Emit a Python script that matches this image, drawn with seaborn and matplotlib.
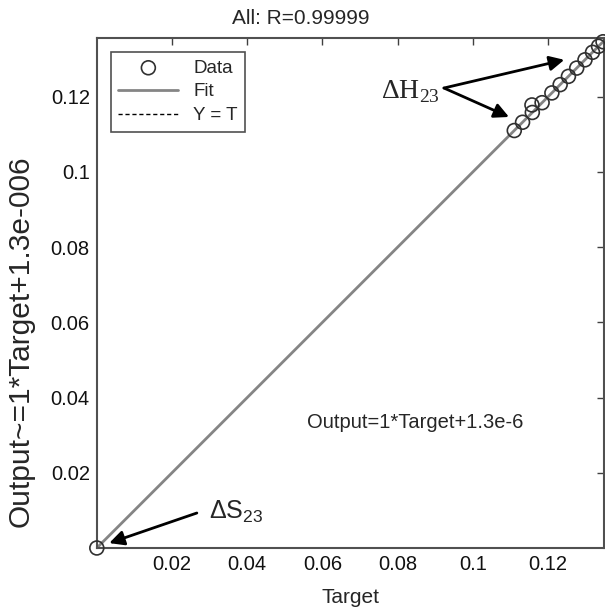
import numpy as np
import pandas as pd
import matplotlib
matplotlib.use("Agg")
import matplotlib.pyplot as plt
import seaborn as sns

# values
target = [0.0, 0.1110, 0.1132, 0.1157, 0.1158, 0.1184, 0.1210, 0.1232,
          0.1254, 0.1276, 0.1298, 0.1318, 0.1334, 0.1346]
output = [0.0, 0.1110, 0.1132, 0.1178, 0.1158, 0.1184, 0.1210, 0.1232,
          0.1254, 0.1276, 0.1298, 0.1318, 0.1334, 0.1346]
fit_x = [0.0, 0.1350]
fit_slope = 1.0
fit_intercept = 1.3e-6
tick_values = [0.02, 0.04, 0.06, 0.08, 0.1, 0.12]
tick_labels = ["0.02", "0.04", "0.06", "0.08", "0.1", "0.12"]

sns.set_style("white")
plt.rcParams["font.family"] = ["Liberation Sans", "DejaVu Sans"]
plt.rcParams["mathtext.fontset"] = "custom"
plt.rcParams["mathtext.rm"] = "Liberation Serif"
plt.rcParams["mathtext.sf"] = "Liberation Sans"

df = pd.DataFrame({"Target": target, "Output": output})
fit_df = pd.DataFrame({"x": fit_x,
                       "fit": [fit_slope * v + fit_intercept for v in fit_x],
                       "yt": fit_x})

fig = plt.figure(figsize=(6.05, 6.12), dpi=100)
ax = fig.add_axes([0.160, 0.1046, 0.838, 0.8333])

sns.lineplot(data=fit_df, x="x", y="yt", ax=ax, color="black", lw=1,
             linestyle=(0, (3, 2)), label="Y = T", zorder=1)
sns.lineplot(data=fit_df, x="x", y="fit", ax=ax, color="#858585", lw=2,
             label="Fit", zorder=2)
sns.scatterplot(data=df, x="Target", y="Output", ax=ax, marker="o", s=100,
                facecolors="none", edgecolor="#303030", linewidth=1.2,
                label="Data", zorder=3)
ax.collections[-1].set_clip_on(False)

ax.set_xlim(0, 0.1348)
ax.set_ylim(0, 0.1356)
ax.set_xticks(tick_values, tick_labels)
ax.set_yticks(tick_values, tick_labels)
ax.tick_params(direction="in", length=5, width=1, color="#404040",
               labelsize=14.5, pad=5, top=True, right=True,
               labelcolor="#111111")
for sp in ax.spines.values():
    sp.set_color("#505050")
    sp.set_linewidth(1.5)

ax.set_xlabel("Target", fontsize=15)
ax.xaxis.set_label_coords(0.5, -0.078)
ax.set_ylabel("Output~=1*Target+1.3e-006", fontsize=21.5)
ax.yaxis.set_label_coords(-0.150, 0.406)
ax.yaxis.label.set_va("center")
ax.yaxis.label.set_rotation_mode("default")

fig.text(0.497, 0.969, "All: R=0.99999", ha="center", va="center", fontsize=15)

# legend in the order Data, Fit, Y = T
h, l = ax.get_legend_handles_labels()
order = [l.index("Data"), l.index("Fit"), l.index("Y = T")]
leg = ax.legend([h[i] for i in order], [l[i] for i in order], loc="upper left",
                fontsize=13.5, handlelength=3.2, borderaxespad=0.75,
                fancybox=False, framealpha=1, edgecolor="#505050",
                borderpad=0.4, labelspacing=0.35)
leg.get_frame().set_linewidth(1.2)

ax.text(0.0846, 0.0334, "Output=1*Target+1.3e-6", ha="center", va="center",
        fontsize=14.5)

arrow = dict(arrowstyle="-|>", lw=2, color="black", mutation_scale=22,
             shrinkA=0, shrinkB=0)
ax.annotate("", xy=(0.1243, 0.1298), xytext=(0.0923, 0.1223), arrowprops=arrow)
ax.annotate("", xy=(0.1096, 0.1146), xytext=(0.0923, 0.1223), arrowprops=arrow)
ax.text(0.0756, 0.1213, r"$\mathrm{\Delta H}_{\mathrm{23}}$", ha="left",
        va="center", fontsize=20)

ax.annotate("", xy=(0.0033, 0.0013), xytext=(0.0266, 0.0093), arrowprops=arrow)
ax.text(0.0298, 0.0096, r"$\mathsf{\Delta S}_{\mathsf{23}}$", ha="left",
        va="center", fontsize=18)

fig.savefig("out.png", dpi=100)
